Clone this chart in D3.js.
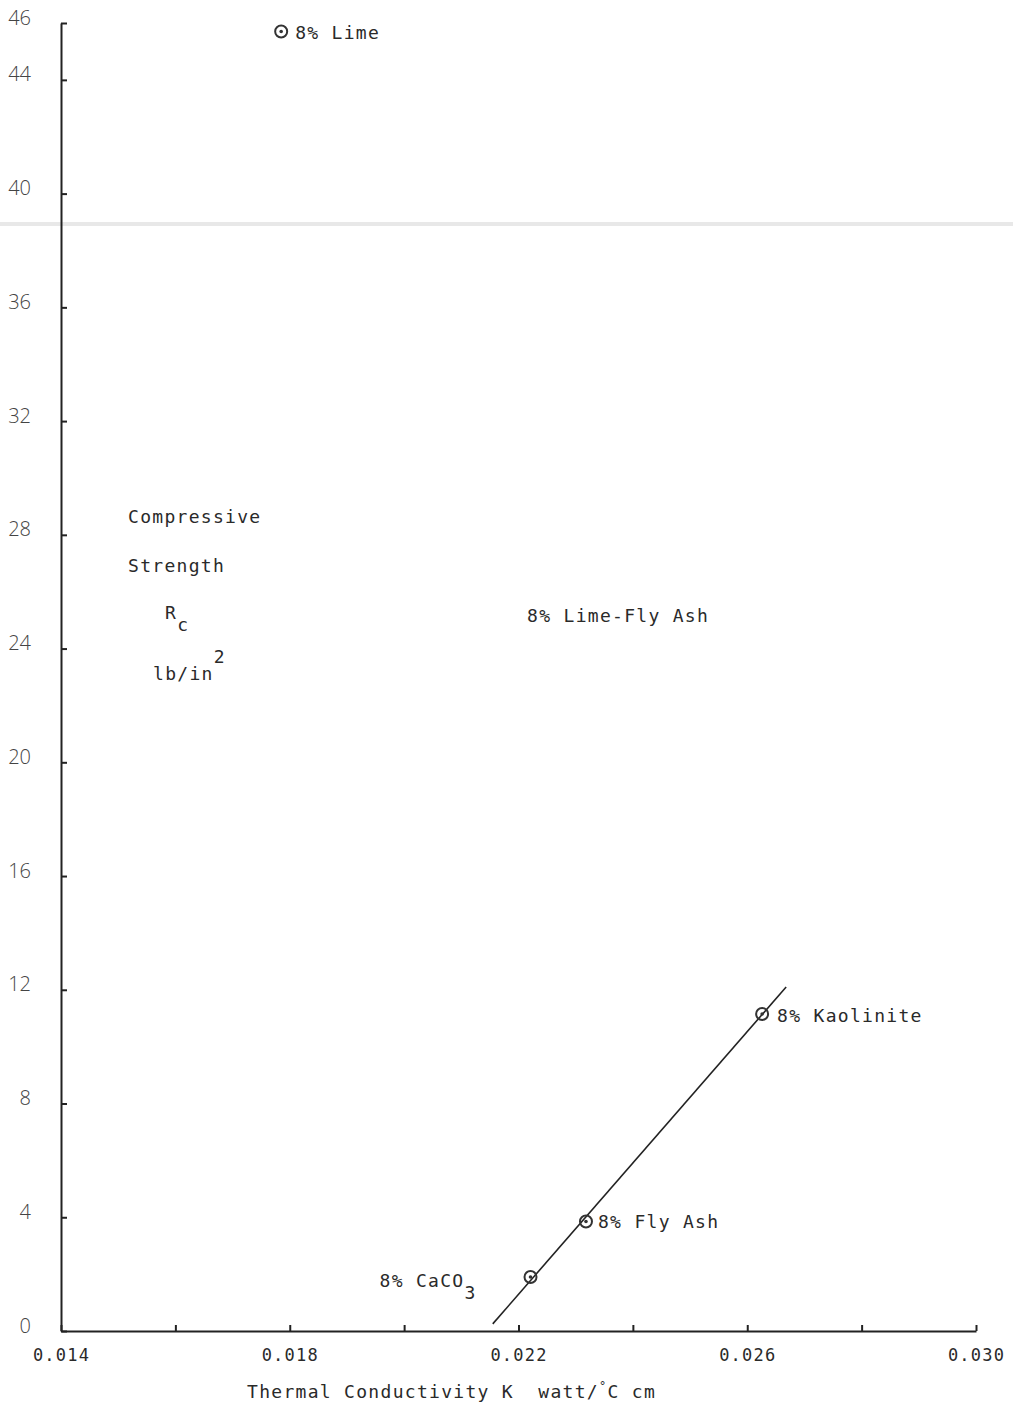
<!DOCTYPE html>
<html>
<head>
<meta charset="utf-8">
<script src="https://cdn.jsdelivr.net/npm/d3@7"></script>
<style>
  body { margin: 0; background: #fff; }
  .mono { font-family: "DejaVu Sans Mono", monospace; fill: #2a2a2a; white-space: pre; }
</style>
</head>
<body>
<div id="chart"></div>
<script>
// data
const labels = ["8% Lime", "8% Kaolinite", "8% Fly Ash", "8% CaCO"];
const conductivity = [0.01785, 0.02626, 0.02318, 0.02221];
const strength = [45.7, 11.15, 3.85, 1.9];
const fitK = [0.02155, 0.02668];
const fitRc = [0.25, 12.1];
const xTicks = [0.014, 0.016, 0.018, 0.020, 0.022, 0.024, 0.026, 0.028, 0.030];
const xTickLabels = [0.014, 0.018, 0.022, 0.026, 0.030];
const yTicks = [0, 4, 8, 12, 16, 20, 24, 28, 32, 36, 40, 44, 46];

const W = 1013, H = 1409;
const MARGIN = {TOP: 23, LEFT: 61, RIGHT: 37, BOTTOM: 78};
const WIDTH = W - MARGIN.LEFT - MARGIN.RIGHT;
const HEIGHT = H - MARGIN.TOP - MARGIN.BOTTOM;

const root = d3.select("#chart").append("svg")
  .attr("width", W).attr("height", H);

// faint scan streak across the page
root.append("rect").attr("x", 0).attr("y", 222).attr("width", W).attr("height", 4)
  .attr("fill", "#e8e8e8");

const svg = root.append("g")
  .attr("transform", `translate(${MARGIN.LEFT},${MARGIN.TOP})`);

const x = d3.scaleLinear().domain([0.014, 0.030]).range([0, WIDTH]);
const y = d3.scaleLinear().domain([0, 46]).range([HEIGHT, 0]);

const xAxis = svg.append("g")
  .attr("transform", `translate(0,${HEIGHT})`)
  .call(d3.axisBottom(x).tickValues(xTicks).tickSize(-6).tickSizeOuter(0).tickPadding(18)
    .tickFormat(d => xTickLabels.some(v => Math.abs(v - d) < 1e-9) ? d3.format(".3f")(d) : ""));
xAxis.select(".domain").attr("stroke", "#222").attr("stroke-width", 2);
xAxis.selectAll(".tick line").attr("stroke", "#222").attr("stroke-width", 2);
xAxis.selectAll(".tick text").attr("class", "mono")
  .style("font-size", "17px").style("letter-spacing", "1.2px").attr("fill", "#2a2a2a");

const yAxis = svg.append("g")
  .call(d3.axisLeft(y).tickValues(yTicks).tickSize(-6).tickSizeOuter(0).tickPadding(30));
yAxis.select(".domain").attr("stroke", "#222").attr("stroke-width", 2);
yAxis.selectAll(".tick line").attr("stroke", "#222").attr("stroke-width", 2);
yAxis.selectAll(".tick text")
  .style("font-family", "'Open Sans', sans-serif").style("font-weight", 300)
  .style("font-size", "20px").attr("fill", "#444").attr("dy", "0.05em");

// fitted line
svg.append("line")
  .attr("x1", x(fitK[0])).attr("y1", y(fitRc[0]))
  .attr("x2", x(fitK[1])).attr("y2", y(fitRc[1]))
  .attr("stroke", "#222").attr("stroke-width", 1.6);

// markers
const pts = svg.selectAll(".pt").data(labels.map((l, i) => ({l, k: conductivity[i], r: strength[i]})))
  .enter().append("g").attr("class", "pt")
  .attr("transform", d => `translate(${x(d.k)},${y(d.r)})`);
pts.append("circle").attr("r", 6).attr("fill", "none").attr("stroke", "#333").attr("stroke-width", 2);
pts.append("circle").attr("r", 1.8).attr("fill", "#333");

// point labels
const offs = [[14, 7], [15, 8], [12, 6], [-151, 10]];
pts.append("text").attr("class", "mono")
  .attr("x", (d, i) => offs[i][0]).attr("y", (d, i) => offs[i][1])
  .style("font-size", "18px").style("letter-spacing", "1.3px")
  .text(d => d.l)
  .filter(d => d.l === "8% CaCO")
  .append("tspan").attr("dy", 12).style("font-size", "18px").text("3");

// Lime-Fly Ash annotation
svg.append("text").attr("class", "mono")
  .attr("x", x(0.02215)).attr("y", y(24.95))
  .style("font-size", "18px").style("letter-spacing", "1.3px")
  .text("8% Lime-Fly Ash");

// y axis title block
const yt = svg.append("g").attr("class", "mono").style("font-size", "18px").style("letter-spacing", "1.3px");
yt.append("text").attr("x", 67).attr("y", 500).text("Compressive");
yt.append("text").attr("x", 67).attr("y", 549).text("Strength");
const rc = yt.append("text").attr("x", 104).attr("y", 596).text("R");
rc.append("tspan").attr("dy", 12).text("c");
const lb = yt.append("text").attr("x", 92).attr("y", 657).text("lb/in");
lb.append("tspan").attr("dy", -17).text("2");

// x axis title
const xt = root.append("text").attr("class", "mono")
  .attr("x", 247).attr("y", 1398)
  .style("font-size", "18px").style("letter-spacing", "1.3px")
  .text("Thermal Conductivity K  watt/");
xt.append("tspan").attr("dy", -8).style("font-size", "12px").text("°");
xt.append("tspan").attr("dy", 8).text("C cm");
</script>
</body>
</html>
